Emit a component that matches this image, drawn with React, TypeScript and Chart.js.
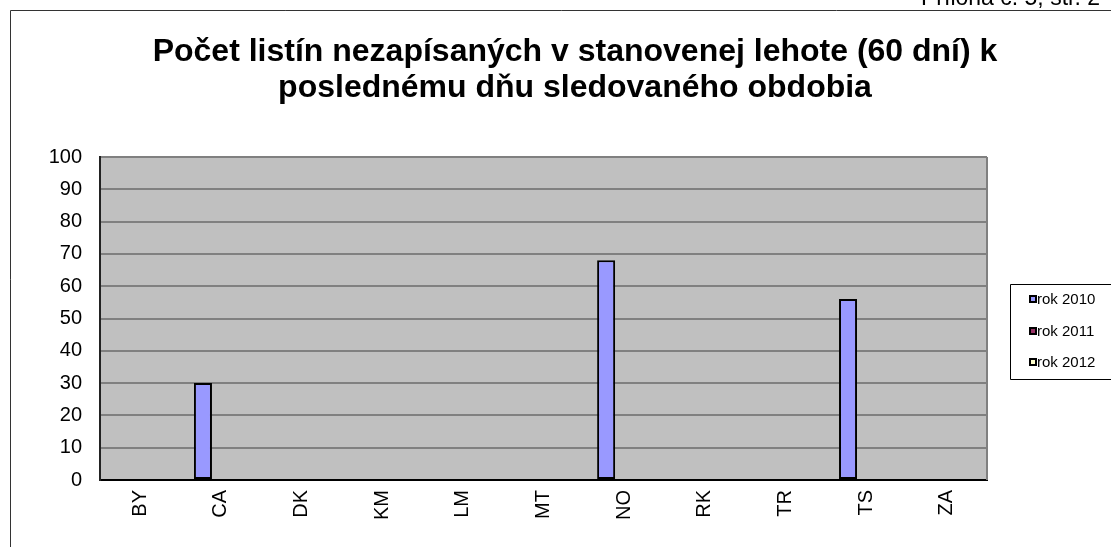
import React, { useEffect, useRef } from "react";
import { Chart, registerables } from "chart.js";

Chart.register(...registerables);

const categories = ["BY", "CA", "DK", "KM", "LM", "MT", "NO", "RK", "TR", "TS", "ZA"];
const rok2010: (number | null)[] = [null, 30, null, null, null, null, 68, null, null, 56, null];
const rok2011: (number | null)[] = [null, null, null, null, null, null, null, null, null, null, null];
const rok2012: (number | null)[] = [null, null, null, null, null, null, null, null, null, null, null];
const seriesNames = ["rok 2010", "rok 2011", "rok 2012"];
const seriesColors = ["#9999FF", "#993366", "#FFFFCC"];
const titleLines = ["Počet listín nezapísaných v stanovenej lehote (60 dní) k", "poslednému dňu sledovaného obdobia"];
const headerNote = "Príloha č. 5, str. 2";

const FONT = "'Liberation Sans', Arial, sans-serif";

const decorPlugin = {
  id: "decor",
  beforeDraw(chart: any) {
    const { ctx, chartArea: a } = chart;
    ctx.save();
    ctx.fillStyle = "#FFFFFF";
    ctx.fillRect(0, 0, chart.width, chart.height);
    // outer frame
    ctx.strokeStyle = "#333333";
    ctx.lineWidth = 1;
    ctx.beginPath();
    ctx.moveTo(10.5, chart.height + 2);
    ctx.lineTo(10.5, 10.5);
    ctx.lineTo(chart.width + 2, 10.5);
    ctx.stroke();
    // header note (clipped at top)
    ctx.fillStyle = "#000";
    ctx.font = `23px ${FONT}`;
    ctx.textAlign = "right";
    ctx.textBaseline = "alphabetic";
    ctx.fillText(headerNote, 1100, 5);
    // title
    ctx.font = `bold 32px ${FONT}`;
    ctx.textAlign = "center";
    ctx.fillText(titleLines[0], 575, 61);
    ctx.fillText(titleLines[1], 575, 97);
    // plot background
    ctx.fillStyle = "#C0C0C0";
    ctx.fillRect(a.left, a.top, a.right - a.left, a.bottom - a.top);
    ctx.restore();
  },
  afterDatasetsDraw(chart: any) {
    const { ctx, chartArea: a } = chart;
    ctx.save();
    // right border of plot
    ctx.strokeStyle = "#808080";
    ctx.lineWidth = 2;
    ctx.beginPath();
    ctx.moveTo(a.right, a.top);
    ctx.lineTo(a.right, a.bottom);
    ctx.stroke();
    // legend
    const lx = 1010.5, ly = 284.5;
    ctx.strokeStyle = "#000";
    ctx.lineWidth = 1;
    ctx.beginPath();
    ctx.moveTo(chart.width + 2, ly);
    ctx.lineTo(lx, ly);
    ctx.lineTo(lx, 379.5);
    ctx.lineTo(chart.width + 2, 379.5);
    ctx.stroke();
    ctx.font = `15px ${FONT}`;
    ctx.textAlign = "left";
    ctx.textBaseline = "middle";
    const ys = [299, 331, 362];
    seriesNames.forEach((n, i) => {
      ctx.fillStyle = "#000";
      ctx.fillRect(1029, ys[i] - 4, 8, 8);
      ctx.fillStyle = seriesColors[i];
      ctx.fillRect(1031, ys[i] - 2, 4, 4);
      ctx.fillStyle = "#000";
      ctx.fillText(n, 1037, ys[i] + 1);
    });
    ctx.restore();
  },
};

export default function App() {
  const ref = useRef<HTMLCanvasElement | null>(null);
  useEffect(() => {
    if (!ref.current) return;
    const chart = new Chart(ref.current, {
      type: "bar",
      data: {
        labels: categories,
        datasets: [rok2010, rok2011, rok2012].map((d, i) => ({
          label: seriesNames[i],
          data: d,
          backgroundColor: seriesColors[i],
          borderColor: "#000000",
          borderWidth: 2,
          borderSkipped: false,
          categoryPercentage: 0.67,
          barPercentage: 1,
        })),
      },
      options: {
        animation: false,
        responsive: false,
        maintainAspectRatio: false,
        layout: { padding: { top: 157, right: 124, bottom: 0, left: 0 } },
        plugins: { legend: { display: false }, title: { display: false }, tooltip: { enabled: false } },
        scales: {
          x: {
            afterFit: (s: any) => { s.height = 67; },
            grid: { display: false, drawTicks: false },
            border: { display: true, color: "#000000", width: 2 },
            ticks: {
              color: "#000",
              font: { family: FONT, size: 20 },
              minRotation: 90,
              maxRotation: 90,
              padding: 10,
              autoSkip: false,
            },
          },
          y: {
            min: 0,
            max: 100,
            afterFit: (s: any) => { s.width = 100; },
            grid: { color: "#808080", lineWidth: 2, drawTicks: false },
            border: { display: true, color: "#222222", width: 2 },
            ticks: {
              stepSize: 10,
              color: "#000",
              font: { family: FONT, size: 20 },
              padding: 18,
            },
          },
        },
      },
      plugins: [decorPlugin],
    });
    return () => chart.destroy();
  }, []);
  return (
    <div style={{ position: "fixed", left: 0, top: 0, width: 1111, height: 547 }}>
      <canvas ref={ref} width={1111} height={547} style={{ width: 1111, height: 547, display: "block" }} />
    </div>
  );
}
